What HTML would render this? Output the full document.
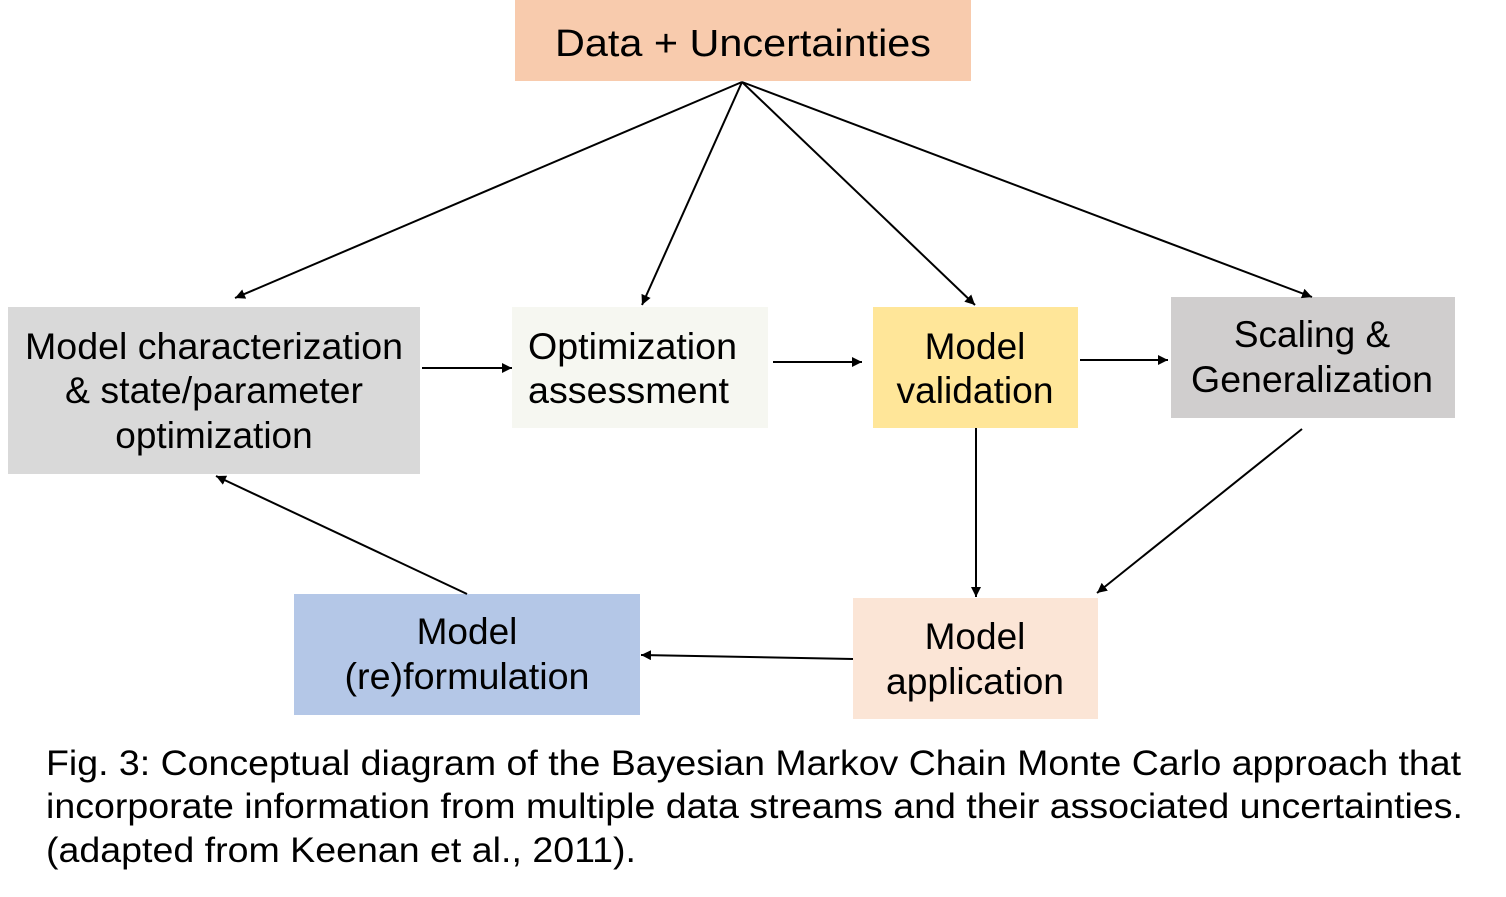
<!DOCTYPE html>
<html><head><meta charset="utf-8"><style>
html,body{margin:0;padding:0;background:#fff;}
svg{display:block;}
text{font-family:"Liberation Sans",Arial,sans-serif;fill:#000;}
</style></head><body>
<svg width="1506" height="897" viewBox="0 0 1506 897" xmlns="http://www.w3.org/2000/svg">
<defs>
<marker id="a" viewBox="0 0 10 10" refX="10" refY="5" markerWidth="10" markerHeight="10" markerUnits="userSpaceOnUse" orient="auto">
<path d="M0,0 L10,5 L0,10 z" fill="#000"/></marker>
</defs>
<rect x="515" y="0" width="456" height="81" fill="#f8cbad"/>
<rect x="8" y="307" width="412" height="167" fill="#d9d9d9"/>
<rect x="512" y="307" width="256" height="121" fill="#f6f7f1"/>
<rect x="873" y="307" width="205" height="121" fill="#ffe699"/>
<rect x="1171" y="297" width="284" height="121" fill="#d0cece"/>
<rect x="294" y="594" width="346" height="121" fill="#b4c7e7"/>
<rect x="853" y="598" width="245" height="121" fill="#fbe5d6"/>

<g font-size="38" text-anchor="middle">
<text x="743" y="56" textLength="376" lengthAdjust="spacingAndGlyphs">Data + Uncertainties</text>
</g>
<g font-size="37" text-anchor="middle">
<text x="214" y="359" textLength="378" lengthAdjust="spacingAndGlyphs">Model characterization</text>
<text x="214" y="403" textLength="298" lengthAdjust="spacingAndGlyphs">&amp; state/parameter</text>
<text x="214" y="448">optimization</text>
<text x="975" y="359">Model</text>
<text x="975" y="403" textLength="157" lengthAdjust="spacingAndGlyphs">validation</text>
<text x="1312" y="347">Scaling &amp;</text>
<text x="1312" y="392" textLength="242" lengthAdjust="spacingAndGlyphs">Generalization</text>
<text x="467" y="644">Model</text>
<text x="467" y="689" textLength="245" lengthAdjust="spacingAndGlyphs">(re)formulation</text>
<text x="975" y="649">Model</text>
<text x="975" y="694" textLength="178" lengthAdjust="spacingAndGlyphs">application</text>
</g>
<g font-size="37">
<text x="528" y="359" textLength="209" lengthAdjust="spacingAndGlyphs">Optimization</text>
<text x="528" y="403" textLength="201" lengthAdjust="spacingAndGlyphs">assessment</text>
</g>
<g font-size="35">
<text x="46" y="775" textLength="1415" lengthAdjust="spacingAndGlyphs">Fig. 3: Conceptual diagram of the Bayesian Markov Chain Monte Carlo approach that</text>
<text x="46" y="818" textLength="1417" lengthAdjust="spacingAndGlyphs">incorporate information from multiple data streams and their associated uncertainties.</text>
<text x="46" y="862" textLength="590" lengthAdjust="spacingAndGlyphs">(adapted from Keenan et al., 2011).</text>
</g>

<g stroke="#000" stroke-width="2" fill="none" marker-end="url(#a)">
<line x1="742" y1="82" x2="235" y2="298"/>
<line x1="742" y1="82" x2="642" y2="305"/>
<line x1="742" y1="82" x2="975" y2="305"/>
<line x1="742" y1="82" x2="1312" y2="297"/>
<line x1="422" y1="368" x2="512" y2="368"/>
<line x1="773" y1="362" x2="862" y2="362"/>
<line x1="1080" y1="360" x2="1168" y2="360"/>
<line x1="976" y1="428" x2="976" y2="597"/>
<line x1="1302" y1="429" x2="1097" y2="593"/>
<line x1="853" y1="659" x2="641" y2="655"/>
<line x1="467" y1="594" x2="216" y2="476"/>
</g>
</svg>
</body></html>
